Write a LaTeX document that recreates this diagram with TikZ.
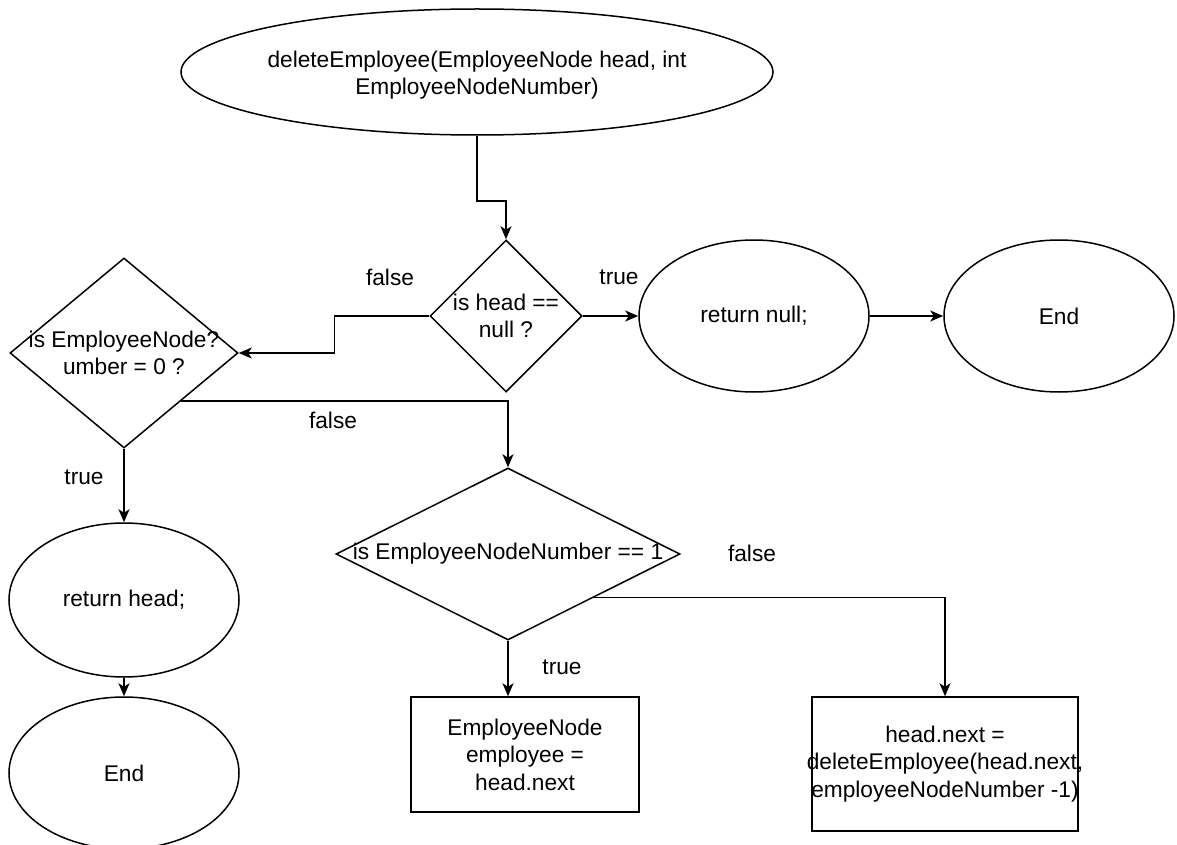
\documentclass[tikz,border=0pt]{standalone}
\usepackage{fontspec}
\setmainfont{Liberation Sans}
\usetikzlibrary{shapes.geometric,arrows.meta,positioning}

\tikzset{
  shapeline/.style={draw=black, line width=1.5pt, fill=white, inner sep=0pt},
  oval/.style={shapeline, ellipse},
  dia/.style={shapeline, diamond},
  box/.style={shapeline, rectangle},
  txt/.style={align=center, inner sep=0pt, text=black,
    font=\fontsize{22.7}{27.5}\selectfont},
  lbl/.style={txt},
  arr/.style={draw=black, line width=1.5pt,
    -{Stealth[length=13pt, width=11pt, inset=3.5pt]}},
}

\begin{document}
\begin{tikzpicture}[x=1pt, y=-1pt]
  \useasboundingbox (0,0) rectangle (1177,845);

  % shapes
  \node[oval, minimum width=592pt, minimum height=126pt] (start) at (477,72) {};
  \node[dia, minimum width=152pt, minimum height=152pt] (d1) at (506,316) {};
  \node[oval, minimum width=230pt, minimum height=152pt] (rnull) at (754,316) {};
  \node[oval, minimum width=230pt, minimum height=152pt] (end1) at (1059,316) {};
  \node[dia, minimum width=228pt, minimum height=190pt] (d2) at (124,353) {};
  \node[oval, minimum width=230pt, minimum height=154pt] (rhead) at (124,600) {};
  \node[oval, minimum width=230pt, minimum height=152pt] (end2) at (124,773) {};
  \node[dia, minimum width=344pt, minimum height=172pt] (d3) at (508,554) {};
  \node[box, minimum width=228pt, minimum height=115pt] (r1) at (525,754.5) {};
  \node[box, minimum width=266pt, minimum height=134pt] (r2) at (945,764) {};

  % texts inside the shapes
  \node[txt] (tstart) at ([yshift=-3pt]start.center) {deleteEmployee(EmployeeNode head, int\\EmployeeNodeNumber)};
  \node[txt] (td1) at (d1) {is head ==\\null ?};
  \node[txt] (trnull) at (rnull) {return null;};
  \node[txt] (tend1) at (end1) {End};
  \node[txt] (td2) at (d2) {is EmployeeNode?\\umber = 0 ?};
  \node[txt] (trhead) at (rhead) {return head;};
  \node[txt] (tend2) at (end2) {End};
  \node[txt] (td3) at (d3) {is EmployeeNodeNumber == 1};
  \node[txt] (tr1) at (r1) {EmployeeNode\\employee =\\head.next};
  \node[txt] (tr2) at (r2) {head.next =\\deleteEmployee(head.next,\\employeeNodeNumber -1)};

  % connectors
  \draw[arr] (start.south) -- ++(0,65) -| (d1.north);
  \draw[arr] (d1.east) -- (rnull.west);
  \draw[arr] (rnull.east) -- (end1.west);
  \draw[arr] (d1.west) -- ++(-95,0) |- (d2.east);
  \draw[arr] (d2.south) -- (rhead.north);
  \draw[arr] (rhead.south) -- (end2.north);
  \draw[arr] (d2.south east) -| (d3.north);
  \draw[arr] (d3.south) -- (d3.south |- r1.north);
  \draw[arr] (d3.south east) -| (r2.north);

  % branch labels
  \node[lbl] (lf1) at (390,277) {false};
  \node[lbl] (lt1) at (619,277) {true};
  \node[lbl] (lf2) at (333,420) {false};
  \node[lbl] (lt2) at (84,477) {true};
  \node[lbl] (lf3) at (752,553) {false};
  \node[lbl] (lt3) at (562,667) {true};
\end{tikzpicture}
\end{document}
